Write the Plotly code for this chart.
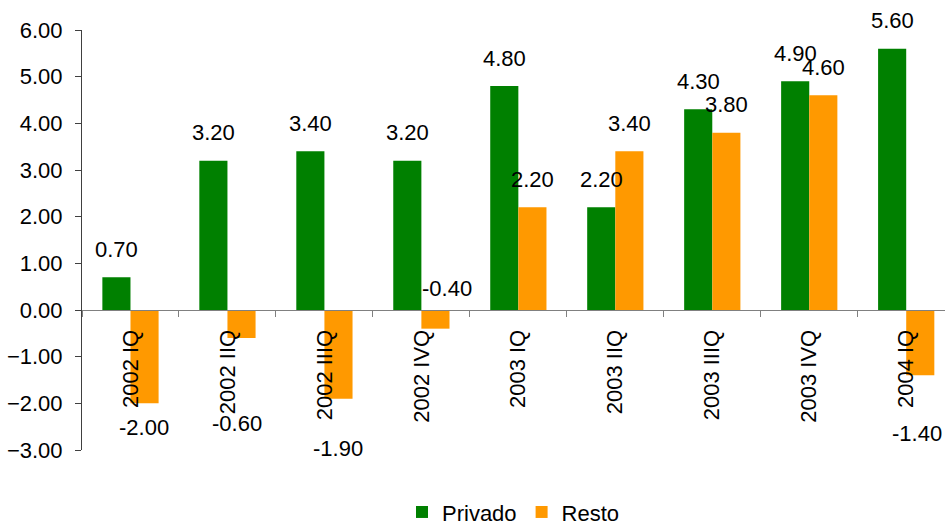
import plotly.graph_objects as go

categories = ["2002 IQ", "2002 IIQ", "2002 IIIQ", "2002 IVQ", "2003 IQ",
              "2003 IIQ", "2003 IIIQ", "2003 IVQ", "2004 IQ"]
privado = [0.70, 3.20, 3.40, 3.20, 4.80, 2.20, 4.30, 4.90, 5.60]
resto = [-2.00, -0.60, -1.90, -0.40, 2.20, 3.40, 3.80, 4.60, -1.40]

GREEN = "#008000"
ORANGE = "#FF9900"
FONT = "Liberation Sans, Arial, sans-serif"
FS = 22

# layout constants (pixels)
W, H = 945, 529
ML, MR, MT, MB = 82, 0, 30, 79
BAR_HALF = 14  # half-bar offset from category centre

# label offsets for Resto labels (pixel shifts relative to bar end), as in the original
resto_label_shift = {0: (0, -24), 1: (-4, -85), 2: (0, -50), 3: (12, 40), 8: (-3, -58)}

fig = go.Figure()
fig.add_trace(go.Bar(name="Privado", x=categories, y=privado, marker_color=GREEN,
                     marker_line_width=0))
fig.add_trace(go.Bar(name="Resto", x=categories, y=resto, marker_color=ORANGE,
                     marker_line_width=0))

annotations = []
for i, (c, v) in enumerate(zip(categories, privado)):
    annotations.append(dict(x=c, y=v, xref="x", yref="y", text=f"{v:.2f}",
                            showarrow=False, xshift=-BAR_HALF, yshift=28,
                            yanchor="middle", font=dict(family=FONT, size=FS, color="black")))
for i, (c, v) in enumerate(zip(categories, resto)):
    dx, dy = resto_label_shift.get(i, (0, 28))
    annotations.append(dict(x=c, y=v, xref="x", yref="y", text=f"{v:.2f}",
                            showarrow=False, xshift=BAR_HALF + dx, yshift=dy,
                            yanchor="middle", font=dict(family=FONT, size=FS, color="black")))

ymin, ymax = -3, 6
fig.update_layout(
    width=W, height=H,
    margin=dict(l=ML, r=MR, t=MT, b=MB, autoexpand=False),
    paper_bgcolor="white", plot_bgcolor="white",
    barmode="group", bargap=0.42, bargroupgap=0,
    font=dict(family=FONT, size=FS, color="black"),
    showlegend=True,
    legend=dict(orientation="h", x=0.5, xanchor="center", y=-0.148, yanchor="middle",
                font=dict(family=FONT, size=FS, color="black"), itemsizing="constant",
                tracegroupgap=0, itemwidth=30),
    annotations=annotations,
    xaxis=dict(type="category", categoryorder="array", categoryarray=categories,
               range=[-0.5, 8.4], anchor="free", position=(0 - ymin) / (ymax - ymin),
               showline=True, linecolor="#808080", linewidth=1, automargin=False,
               ticks="outside", tickson="boundaries", ticklen=6, tickcolor="#808080",
               tickangle=-90, showgrid=False, zeroline=False,
               tickfont=dict(family=FONT, size=FS, color="black"), ticklabelstandoff=10),
    yaxis=dict(range=[ymin, ymax], dtick=1, tick0=0, tickformat=".2f",
               showline=True, linecolor="#404040", linewidth=1, automargin=False,
               ticks="outside", ticklen=6, tickcolor="#404040",
               showgrid=False, zeroline=False,
               tickfont=dict(family=FONT, size=FS, color="black"), ticklabelstandoff=8),
)

fig.write_html("out.html")
